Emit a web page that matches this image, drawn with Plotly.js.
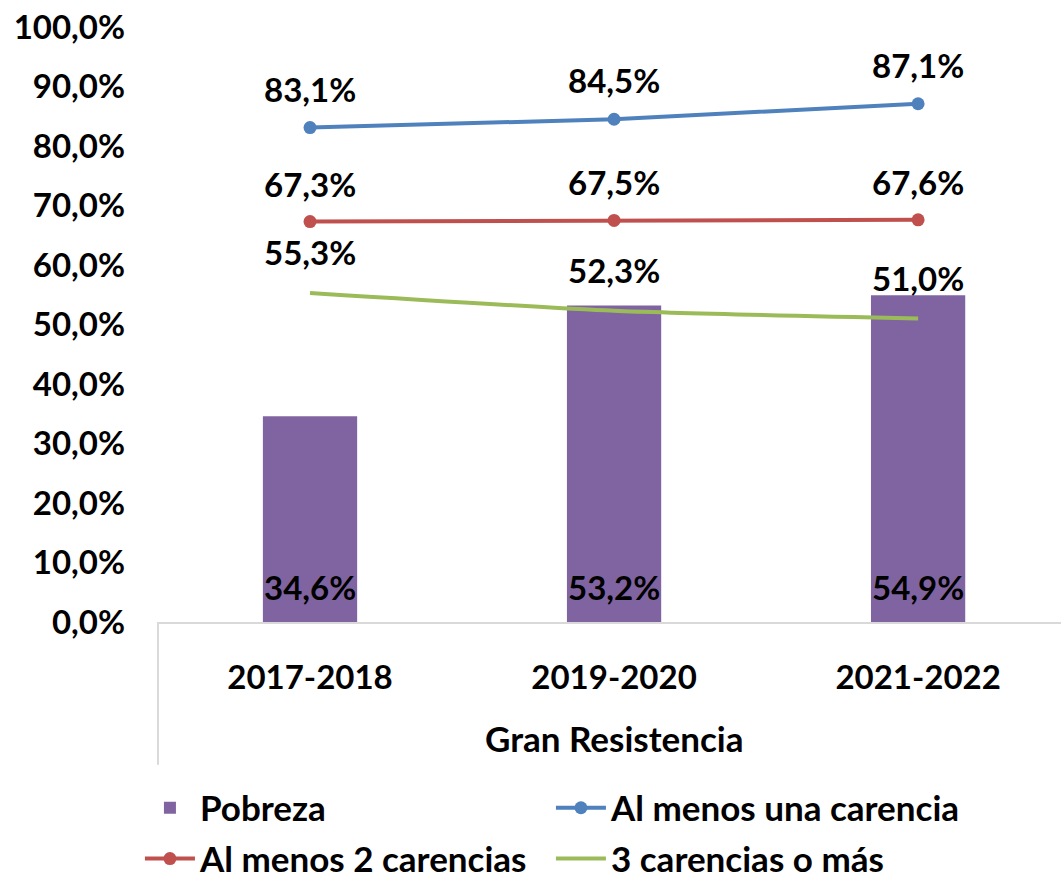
<!DOCTYPE html>
<html>
<head>
<meta charset="utf-8">
<script src="https://cdn.plot.ly/plotly-3.0.1.min.js"></script>
<style>html,body{margin:0;padding:0;background:#fff;}#chart{width:1061px;height:881px;}</style>
</head>
<body>
<div id="chart"></div>
<script>
const categories = ["2017-2018", "2019-2020", "2021-2022"];
const groupLabel = "Gran Resistencia";
const pobreza = [0.346, 0.532, 0.549];
const alMenosUna = [0.831, 0.845, 0.871];
const alMenosDos = [0.673, 0.675, 0.676];
const tresOMas = [0.553, 0.523, 0.510];

const FONT = "Lato, 'Open Sans', sans-serif";
const FS = 33;      // numbers
const FS_TXT = 35;  // words
const C_PURPLE = "#8064A2", C_BLUE = "#4F81BD", C_RED = "#C0504D", C_GREEN = "#9BBB59";

const traces = [
  {type: "bar", name: "Pobreza", x: categories, y: pobreza, marker: {color: C_PURPLE},
   width: 0.31, legend: "legend", hoverinfo: "skip"},
  {type: "scatter", mode: "lines+markers", name: "Al menos una carencia", x: categories, y: alMenosUna,
   line: {color: C_BLUE, width: 4}, marker: {color: C_BLUE, size: 13}, legend: "legend"},
  {type: "scatter", mode: "lines+markers", name: "Al menos 2 carencias", x: categories, y: alMenosDos,
   line: {color: C_RED, width: 4}, marker: {color: C_RED, size: 13}, legend: "legend2"},
  {type: "scatter", mode: "lines", name: "3 carencias o más", x: categories, y: tresOMas,
   line: {color: C_GREEN, width: 4, shape: "spline", smoothing: 0.6}, legend: "legend2"}
];

function fmt(v) { return (v * 100).toFixed(1).replace(".", ",") + "%"; }
const labelFont = {family: FONT, size: FS, color: "#000", weight: "bold"};
const annotations = [];
function addLabels(vals, shift) {
  vals.forEach((v, i) => {
    annotations.push({x: categories[i], y: v, xref: "x", yref: "y", yshift: shift,
      text: fmt(v), showarrow: false, font: labelFont});
  });
}
addLabels(alMenosUna, 39);
addLabels(alMenosDos, 38);
addLabels(tresOMas, 41);
pobreza.forEach((v, i) => {
  annotations.push({x: categories[i], y: 0, xref: "x", yref: "y", yshift: 35,
    text: fmt(v), showarrow: false, font: labelFont});
});
annotations.push({x: categories[1], y: -0.195, xref: "x", yref: "paper", yanchor: "middle",
  text: groupLabel, showarrow: false, font: {family: FONT, size: FS_TXT, color: "#000", weight: "bold"}});

const legendCommon = {orientation: "h", xanchor: "left", yanchor: "middle", entrywidth: 346,
  entrywidthmode: "pixels", itemwidth: 50, bgcolor: "rgba(0,0,0,0)", traceorder: "normal",
  font: {family: FONT, size: FS_TXT, color: "#000", weight: "bold"}};

const layout = {
  width: 1061, height: 881,
  margin: {l: 158, r: 0, t: 27, b: 259, autoexpand: false},
  paper_bgcolor: "#fff", plot_bgcolor: "#fff",
  separators: ",.",
  showlegend: true,
  font: {family: FONT, size: FS, color: "#000", weight: "bold"},
  xaxis: {type: "category", range: [-0.5, 2.47], showgrid: false, zeroline: false,
    showline: true, linecolor: "#D9D9D9", linewidth: 2, ticks: "", ticklabelstandoff: 25,
    automargin: false,
    tickfont: {family: FONT, size: FS, color: "#000", weight: "bold"}, fixedrange: true},
  yaxis: {range: [0, 1], dtick: 0.1, tick0: 0, tickformat: ".1%", showgrid: false,
    zeroline: false, showline: false, ticks: "", ticklabelstandoff: 32, automargin: false,
    tickfont: {family: FONT, size: FS, color: "#000", weight: "bold"}, fixedrange: true},
  shapes: [{type: "line", xref: "paper", yref: "paper", x0: 0, x1: 0, y0: 0, y1: -0.24,
    line: {color: "#D9D9D9", width: 2}}],
  annotations: annotations,
  legend: Object.assign({}, legendCommon, {x: -0.02, y: -0.3126}),
  legend2: Object.assign({}, legendCommon, {x: -0.02, y: -0.398})
};

Plotly.newPlot("chart", traces, layout, {displayModeBar: false, staticPlot: true});
</script>
</body>
</html>
